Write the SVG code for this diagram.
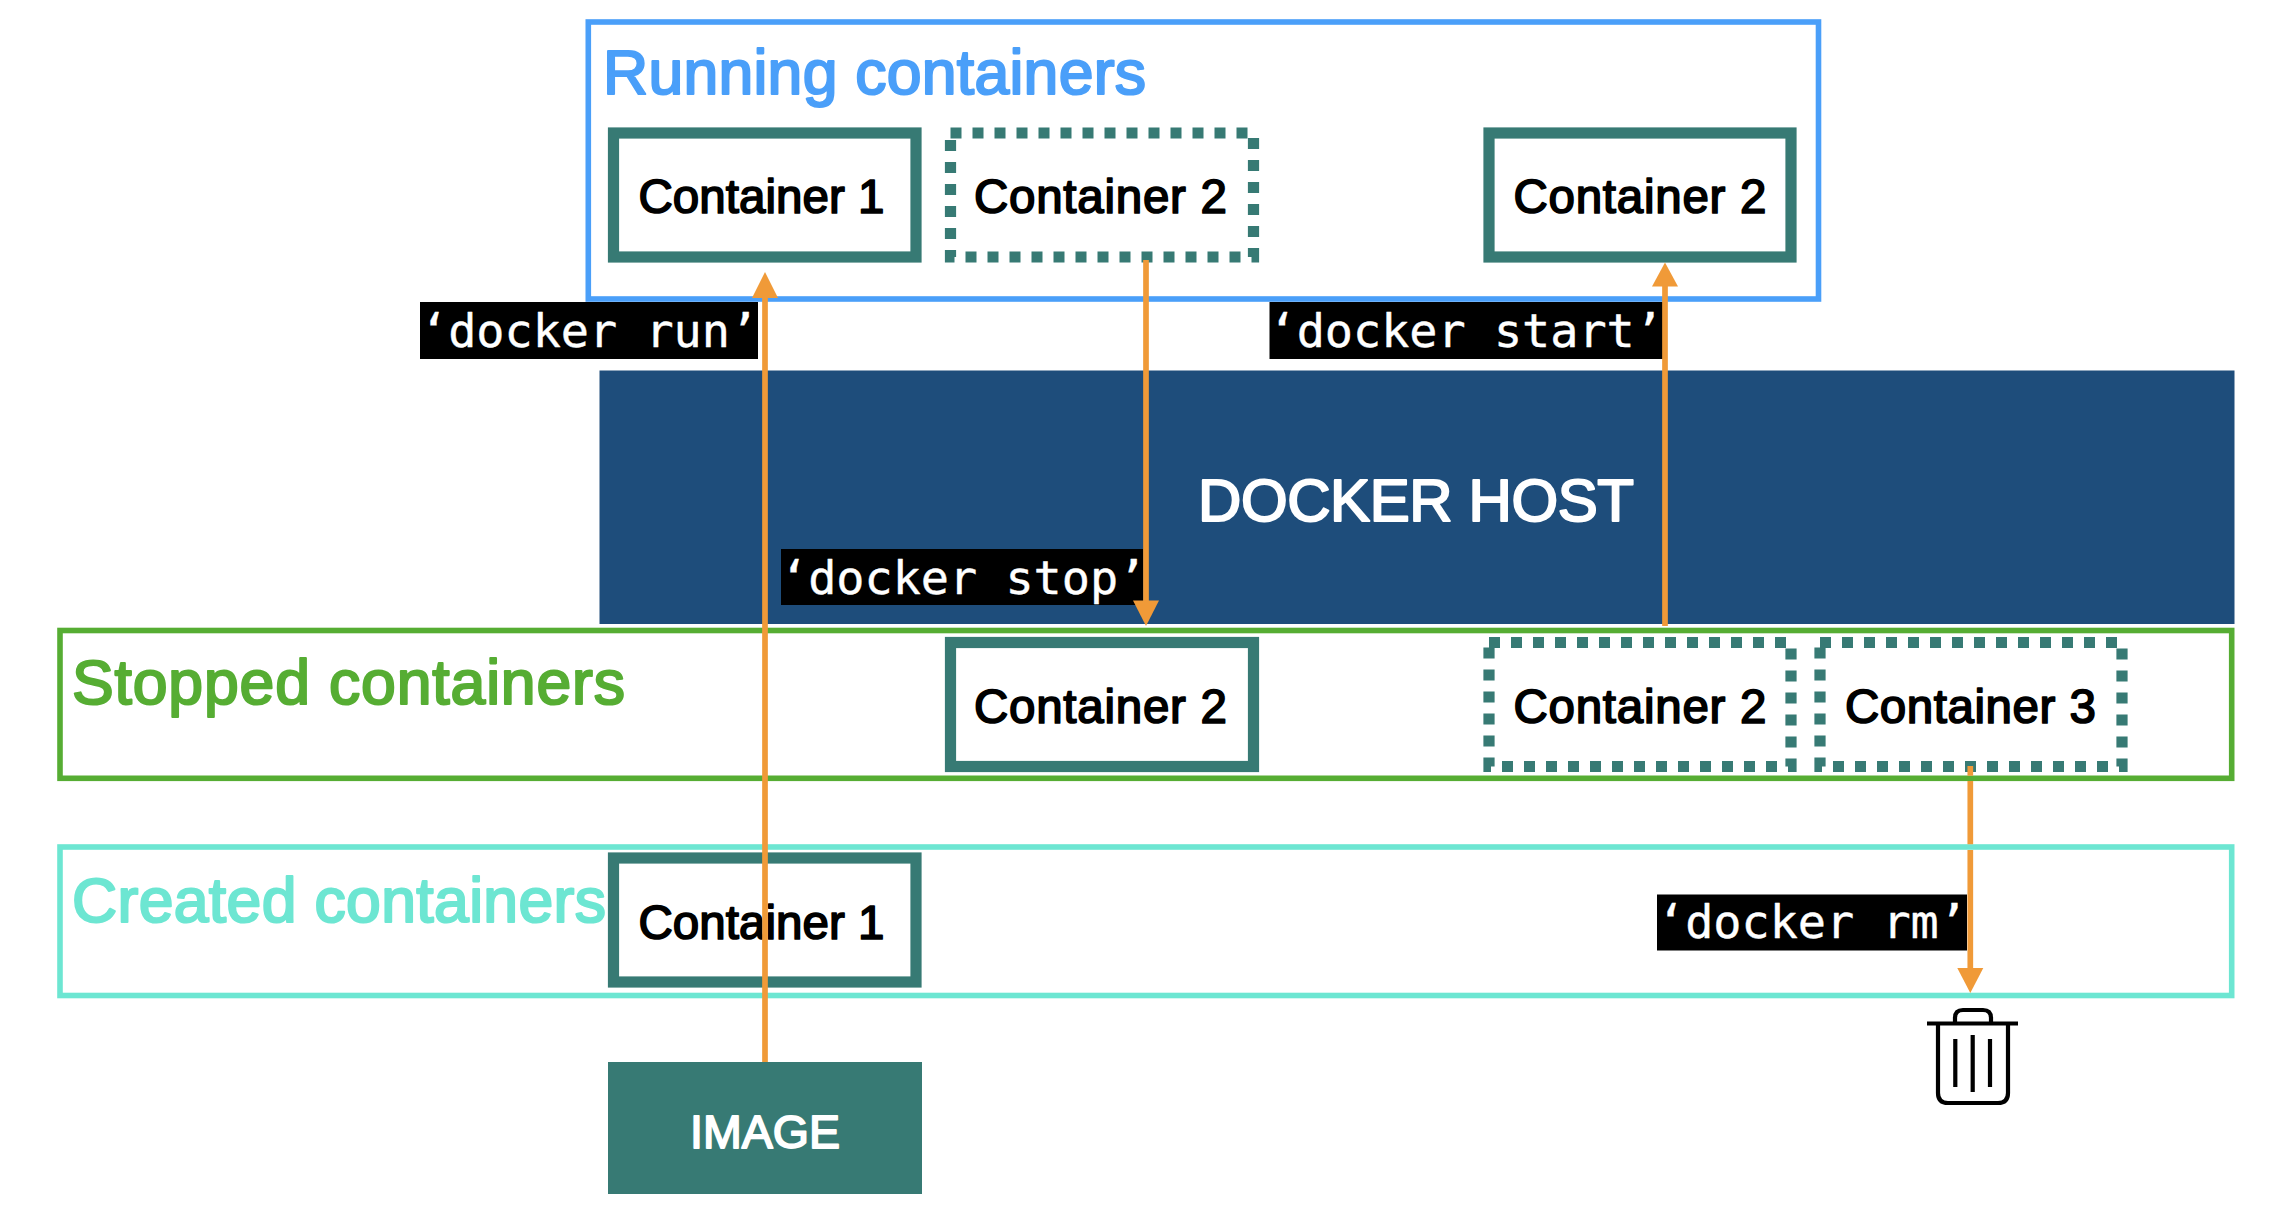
<svg xmlns="http://www.w3.org/2000/svg" width="2270" height="1210" viewBox="0 0 2270 1210">
  <style>
    text { font-family: "Liberation Sans", Arial, sans-serif; stroke-linejoin: round; }
    .title { font-size: 62.5px; stroke-width: 2.2px; }
    .frame { fill: none; stroke-width: 5.6px; }
    .box { fill: #fff; stroke: #377A74; stroke-width: 11.2px; }
    .dashed { fill: #fff; stroke: #377A74; stroke-width: 11.2px; stroke-dasharray: 11 11; }
    .clabel { font-size: 47.5px; fill: #000; stroke: #000; stroke-width: 1.7px; }
    .cmdbg { fill: #000; }
    .cmd { font-family: "DejaVu Sans Mono", "Liberation Mono", monospace; font-size: 46.8px; fill: #fff; stroke: #fff; stroke-width: 0.4px; }
    .conn { fill: none; stroke: #F09A38; stroke-width: 5.7px; }
    .head { fill: #F09A38; }
    .trash { fill: none; stroke: #000; stroke-width: 4.2px; }
  </style>

  <g id="docker-host">
    <rect x="599.5" y="370.5" width="1635" height="253.5" fill="#1E4D7B"/>
    <text x="1198" y="521" font-size="60px" textLength="436" fill="#fff" stroke="#fff" stroke-width="2.1">DOCKER HOST</text>
  </g>

  <g id="running-containers">
    <rect class="frame" x="588.3" y="22" width="1230.2" height="277" stroke="#4A9FF9"/>
    <text class="title" x="603" y="94" textLength="543" fill="#4A9FF9" stroke="#4A9FF9">Running containers</text>
  </g>
  <g id="stopped-containers">
    <rect class="frame" x="60" y="630.5" width="2171.7" height="147.8" stroke="#56AD33"/>
    <text class="title" x="72" y="704" textLength="553" fill="#56AD33" stroke="#56AD33">Stopped containers</text>
  </g>
  <g id="created-containers">
    <rect class="frame" x="60" y="847" width="2171.7" height="148.5" stroke="#6DE6D2"/>
    <text class="title" x="72" y="922" textLength="534" fill="#6DE6D2" stroke="#6DE6D2">Created containers</text>
  </g>

  <g id="running-container-1">
    <rect class="box" x="613.5" y="133" width="302.5" height="124"/>
    <text class="clabel" x="638.5" y="213" textLength="246">Container 1</text>
  </g>
  <g id="running-container-2-stopping">
    <rect class="dashed" x="950.5" y="133" width="303" height="124"/>
    <text class="clabel" x="974" y="213" textLength="253">Container 2</text>
  </g>
  <g id="running-container-2">
    <rect class="box" x="1489" y="133" width="302" height="124"/>
    <text class="clabel" x="1513.5" y="213" textLength="253">Container 2</text>
  </g>
  <g id="stopped-container-2">
    <rect class="box" x="950.5" y="642.5" width="303" height="124"/>
    <text class="clabel" x="974" y="723" textLength="253">Container 2</text>
  </g>
  <g id="stopped-container-2-starting">
    <rect class="dashed" x="1489" y="642.5" width="302" height="124"/>
    <text class="clabel" x="1513.5" y="723" textLength="253">Container 2</text>
  </g>
  <g id="stopped-container-3">
    <rect class="dashed" x="1820" y="642.5" width="302" height="124"/>
    <text class="clabel" x="1845" y="723" textLength="251">Container 3</text>
  </g>
  <g id="created-container-1">
    <rect class="box" x="613.5" y="858" width="302.5" height="124"/>
    <text class="clabel" x="638.5" y="939" textLength="246">Container 1</text>
  </g>
  <g id="image">
    <rect x="608" y="1062" width="314" height="132" fill="#377A74"/>
    <text x="765" y="1148" font-size="46.5px" text-anchor="middle" fill="#fff" stroke="#fff" stroke-width="1.8">IMAGE</text>
  </g>

  <g id="trash">
    <path class="trash" d="M1927 1023.5H2018M1938 1023.5V1093Q1938 1103 1948 1103H1998Q2008 1103 2008 1093V1023.5M1955 1023.5V1018Q1955 1010 1963 1010H1983Q1991 1010 1991 1018V1023.5"/>
    <path class="trash" d="M1955.3 1039V1087M1972.7 1035V1092M1990 1039V1087"/>
  </g>

  <g id="cmd-run">
    <rect class="cmdbg" x="420" y="302" width="338" height="57"/>
    <text class="cmd" x="420" y="347">‘docker run’</text>
  </g>
  <g id="cmd-start">
    <rect class="cmdbg" x="1269.5" y="302" width="394" height="57"/>
    <text class="cmd" x="1268.5" y="347">‘docker start’</text>
  </g>
  <g id="cmd-stop">
    <rect class="cmdbg" x="781" y="549" width="362" height="56"/>
    <text class="cmd" x="780" y="593.5">‘docker stop’</text>
  </g>
  <g id="cmd-rm">
    <rect class="cmdbg" x="1657" y="894.5" width="310" height="56"/>
    <text class="cmd" x="1657" y="938">‘docker rm’</text>
  </g>

  <g id="connectors">
    <path class="conn" d="M765 1062V296"/>
    <polygon class="head" points="765,272 752,298 778,298"/>
    <path class="conn" d="M1146 260V602"/>
    <polygon class="head" points="1146,626 1133,600.5 1159,600.5"/>
    <path class="conn" d="M1665 626V285"/>
    <polygon class="head" points="1665,262.5 1652,286.5 1678,286.5"/>
    <path class="conn" d="M1970.3 766V775.7M1970.3 781V844.3M1970.3 850V970"/>
    <polygon class="head" points="1970.3,993 1957.3,968 1983.3,968"/>
  </g>
</svg>
